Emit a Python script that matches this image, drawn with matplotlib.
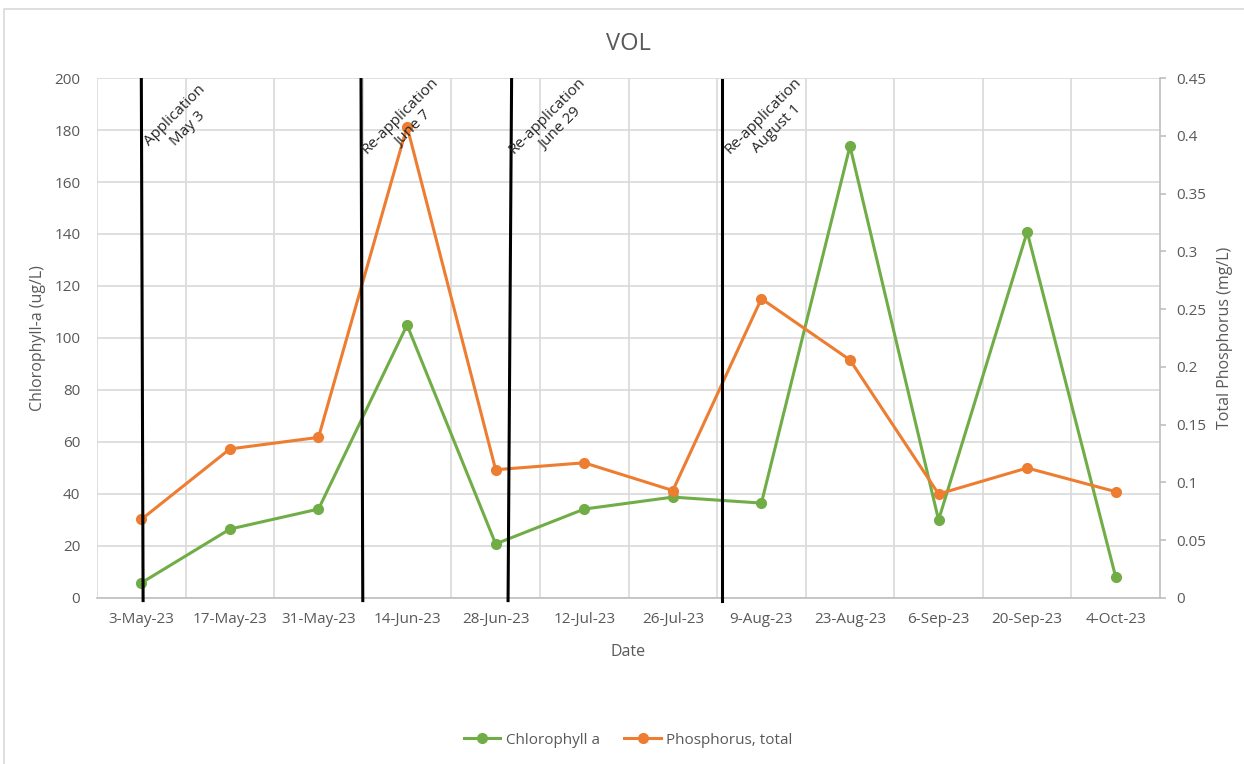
"""
VOL - chlorophyll-a and total phosphorus, 2023 season
"""

import matplotlib.pyplot as plt
from matplotlib.patches import Rectangle

# Sampling dates and results
dates = ['3-May-23', '17-May-23', '31-May-23', '14-Jun-23', '28-Jun-23',
         '12-Jul-23', '26-Jul-23', '9-Aug-23', '23-Aug-23', '6-Sep-23',
         '20-Sep-23', '4-Oct-23']
chlorophyll = [5.8, 26.5, 34.2, 105, 20.8, 34.2, 38.8, 36.5, 173.8, 30,
               140.8, 8]
phosphorus = [0.068, 0.129, 0.139, 0.408, 0.111, 0.117, 0.093, 0.259, 0.206,
              0.090, 0.1125, 0.092]

# Treatment dates, placed on the category axis (top x, bottom x)
treatments = ['Application\nMay 3', 'Re-application\nJune 7',
              'Re-application\nJune 29', 'Re-application\nAugust 1']
treatment_x = [(0.0, 0.02), (2.48, 2.50), (4.18, 4.14), (6.56, 6.56)]
label_x = [0.45, 3.0, 4.66, 7.1]

GREEN = '#70AD47'
ORANGE = '#ED7D31'
GRID = '#D9D9D9'
AXIS = '#BFBFBF'
TEXT = '#595959'

plt.rcParams['font.family'] = ['Open Sans', 'DejaVu Sans']

fig = plt.figure(figsize=(12.44, 7.64), dpi=100)
ax = fig.add_axes([0.078, 0.2173, 0.8545, 0.6806])
ax2 = ax.twinx()

x = list(range(len(dates)))

# Left axis: chlorophyll
ax.plot(x, chlorophyll, color=GREEN, lw=2.2, marker='o', ms=7,
        label='Chlorophyll a')
ax.set_ylim(0, 200)
ax.set_yticks(range(0, 201, 20))
ax.set_xlim(-0.5, len(dates) - 0.5)
ax.set_xticks(x)
ax.set_xticklabels(dates)
ax.set_xticks([i - 0.5 for i in range(len(dates))], minor=True)
ax.grid(axis='y', color=GRID, lw=1.2)
ax.grid(axis='x', which='minor', color=GRID, lw=1.2)
ax.set_axisbelow(True)
ax.tick_params(axis='x', which='both', length=0, pad=10, labelsize=11,
               labelcolor=TEXT)
ax.tick_params(axis='y', length=0, pad=12, labelsize=11, labelcolor=TEXT)
ax.set_ylabel('Chlorophyll-a (ug/L)', fontsize=11.5, color=TEXT, labelpad=6)
ax.set_xlabel('Date', fontsize=11.5, color=TEXT, labelpad=12)
for side in ['left', 'top', 'right']:
    ax.spines[side].set_visible(False)
ax.spines['bottom'].set_color(AXIS)
ax.spines['bottom'].set_linewidth(1.2)

# Right axis: phosphorus
ax2.plot(x, phosphorus, color=ORANGE, lw=2.2, marker='o', ms=7,
         label='Phosphorus, total')
ax2.set_ylim(0, 0.45)
ax2.set_yticks([i * 0.05 for i in range(10)])
ax2.set_yticklabels(['0', '0.05', '0.1', '0.15', '0.2', '0.25', '0.3',
                     '0.35', '0.4', '0.45'])
ax2.tick_params(axis='y', length=4.5, width=1.2, color=AXIS, pad=7,
                labelsize=11, labelcolor=TEXT)
ax2.set_ylabel('Total Phosphorus (mg/L)', fontsize=11.5, color=TEXT,
               labelpad=8)
for side in ['left', 'top', 'bottom']:
    ax2.spines[side].set_visible(False)
ax2.spines['right'].set_color(AXIS)
ax2.spines['right'].set_linewidth(1.2)

# Treatment markers and labels
trans = ax2.get_xaxis_transform()
for (x_top, x_bot), lx, txt in zip(treatment_x, label_x, treatments):
    ax2.plot([x_top, x_bot], [0.997, -0.005], color='black', lw=2.2,
             transform=trans, clip_on=False)
    ax2.text(lx, 0.915, txt, transform=trans, rotation=45, ha='center',
             va='center', multialignment='center', fontsize=11,
             color='#262626', linespacing=1.35)

ax.set_title('VOL', fontsize=17, color=TEXT, pad=20)

# Legend below the chart
h1, l1 = ax.get_legend_handles_labels()
h2, l2 = ax2.get_legend_handles_labels()
fig.legend(h1 + h2, l1 + l2, loc='center', bbox_to_anchor=(0.505, 0.031),
           ncol=2, frameon=False, fontsize=11, labelcolor=TEXT,
           handlelength=2.4, handletextpad=0.35, columnspacing=1.6)

# Chart border
fig.patches.append(Rectangle((0.0032, -0.1), 1.2, 1.0882, fill=False,
                             edgecolor=GRID, lw=1.2,
                             transform=fig.transFigure, figure=fig))

plt.savefig('out.png', dpi=100)
